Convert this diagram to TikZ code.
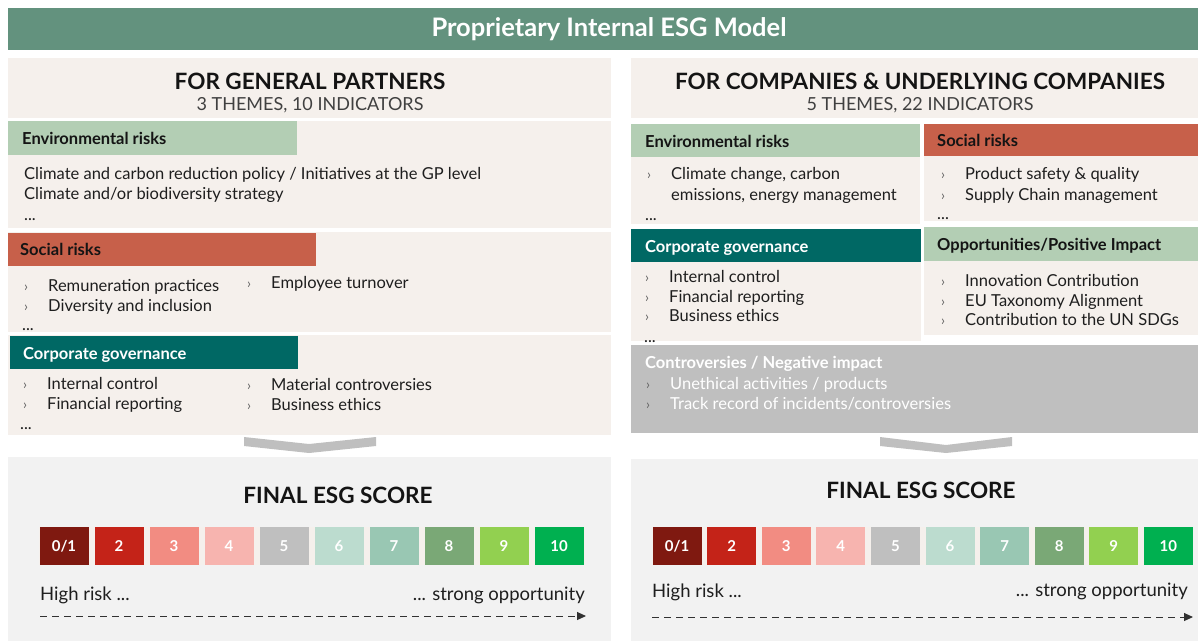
\documentclass[tikz,border=0pt]{standalone}
\usepackage{fontspec}
\setmainfont{Lato}
\usetikzlibrary{arrows.meta}

\definecolor{titlegreen}{RGB}{99,146,126}
\definecolor{panelbg}{RGB}{245,240,236}
\definecolor{scoregrey}{RGB}{242,242,242}
\definecolor{envgreen}{RGB}{179,206,180}
\definecolor{socialred}{RGB}{199,96,74}
\definecolor{govteal}{RGB}{0,104,100}
\definecolor{contgrey}{RGB}{191,191,191}
\definecolor{chevgrey}{RGB}{191,191,191}
\definecolor{headblack}{RGB}{20,20,20}
\definecolor{subgrey}{RGB}{64,64,64}
\definecolor{itemgrey}{RGB}{30,30,30}
\definecolor{bulletgrey}{RGB}{100,100,100}
\definecolor{arrowgrey}{RGB}{50,50,50}
% score scale
\definecolor{sca}{RGB}{127,25,16}
\definecolor{scb}{RGB}{196,35,24}
\definecolor{scc}{RGB}{242,140,130}
\definecolor{scd}{RGB}{247,180,175}
\definecolor{sce}{RGB}{191,191,191}
\definecolor{scf}{RGB}{188,220,207}
\definecolor{scg}{RGB}{153,199,179}
\definecolor{sch}{RGB}{122,168,118}
\definecolor{sci}{RGB}{146,208,80}
\definecolor{scj}{RGB}{0,176,80}

\newcommand{\itm}[1]{\makebox[24pt][l]{\textcolor{bulletgrey}{\fontsize{14}{14}\selectfont ›}}#1}
\newcommand{\zeroone}{0/1}

\begin{document}
\begin{tikzpicture}[x=1pt,y=-1pt,
    headtext/.style={font=\fontsize{22.5}{26}\selectfont\bfseries, text=headblack, inner sep=0pt},
    subtext/.style={font=\fontsize{18}{21}\selectfont, text=subgrey, inner sep=0pt},
    themetext/.style={anchor=west, font=\fontsize{16.5}{19}\selectfont\bfseries, text=headblack,
      inner sep=0pt, text height=12pt, text depth=0pt},
    itemtext/.style={anchor=west, font=\fontsize{16.5}{19}\selectfont, text=itemgrey,
      inner sep=0pt, text height=12pt, text depth=0pt},
    conttext/.style={itemtext, text=white},
    scorebox/.style={minimum width=49pt, minimum height=38pt, inner sep=0pt, text=white,
      font=\fontsize{15}{17}\selectfont\bfseries},
    scaletext/.style={font=\fontsize{18.5}{21}\selectfont, text=itemgrey, inner sep=0pt,
      text height=14pt, text depth=0pt},
    scalearrow/.style={draw=arrowgrey, line width=1pt, dash pattern=on 7pt off 5pt,
      -{Triangle[length=9pt,width=8pt]}}
  ]
  \useasboundingbox (0,0) rectangle (1198,641);

  % title bar
  \fill[titlegreen] (8,8) rectangle (1198,50);
  \node[font=\fontsize{25.5}{30}\selectfont\bfseries, text=white] (title) at (609,29) {Proprietary Internal ESG Model};

  % ---- general partners ----
  \fill[panelbg] (8,58) rectangle (611,118);
  \fill[panelbg] (8,121) rectangle (611,228);
  \fill[panelbg] (8,232) rectangle (611,332);
  \fill[panelbg] (8,335) rectangle (611,435);
  \node[headtext] (gphead) at (310,81) {FOR GENERAL PARTNERS};
  \node[subtext] (gpsub) at (310,105) {3 THEMES, 10 INDICATORS};

  \fill[envgreen] (8,121) rectangle (297,155);
  \node[themetext] (gpenv) at (22,138) {Environmental risks};
  \node[itemtext] (gpenv1) at (24,173) {Climate and carbon reduction policy / Initiatives at the GP level};
  \node[itemtext] (gpenv2) at (24,193) {Climate and/or biodiversity strategy};
  \node[itemtext] (gpenv3) at (24,214) {...};

  \fill[socialred] (8,233) rectangle (316,266);
  \node[themetext] (gpsoc) at (20,249) {Social risks};
  \node[itemtext] (gpsoc1) at (24,285) {\itm{Remuneration practices}};
  \node[itemtext] (gpsoc2) at (24,305) {\itm{Diversity and inclusion}};
  \node[itemtext] (gpsoc3) at (247,282) {\itm{Employee turnover}};
  \node[itemtext] (gpsoc4) at (22,324) {...};

  \fill[govteal] (10,336) rectangle (298,369);
  \node[themetext, text=white] (gpgov) at (23,353) {Corporate governance};
  \node[itemtext] (gpgov1) at (23,383) {\itm{Internal control}};
  \node[itemtext] (gpgov2) at (23,403) {\itm{Financial reporting}};
  \node[itemtext] (gpgov3) at (247,384) {\itm{Material controversies}};
  \node[itemtext] (gpgov4) at (247,404) {\itm{Business ethics}};
  \node[itemtext] (gpgov5) at (20,423) {...};

  % chevron
  \fill[chevgrey] (244,437) -- (309,444) -- (376,437) -- (376,446) -- (309,453) -- (244,446) -- cycle;

  % ---- companies ----
  \fill[panelbg] (631,58) rectangle (1198,118);
  \fill[panelbg] (631,124) rectangle (920,224);
  \fill[panelbg] (924,124) rectangle (1198,221);
  \fill[panelbg] (631,229) rectangle (921,341);
  \fill[panelbg] (924,227) rectangle (1198,335);
  \node[headtext] (cohead) at (920,81) {FOR COMPANIES \& UNDERLYING COMPANIES};
  \node[subtext] (cosub) at (920,105) {5 THEMES, 22 INDICATORS};

  \fill[envgreen] (631,124) rectangle (920,157);
  \node[themetext] (coenv) at (645,141) {Environmental risks};
  \node[itemtext] (coenv1) at (647,173) {\itm{Climate change, carbon}};
  \node[itemtext] (coenv2) at (671,194) {emissions, energy management};
  \node[itemtext] (coenv3) at (645,214) {...};

  \fill[socialred] (924,124) rectangle (1198,156);
  \node[themetext] (cosoc) at (937,140) {Social risks};
  \node[itemtext] (cosoc1) at (941,173) {\itm{Product safety \& quality}};
  \node[itemtext] (cosoc2) at (941,194) {\itm{Supply Chain management}};
  \node[itemtext] (cosoc3) at (937,213) {...};

  \fill[govteal] (631,229) rectangle (921,262);
  \node[themetext, text=white] (cogov) at (645,246) {Corporate governance};
  \node[itemtext] (cogov1) at (645,276) {\itm{Internal control}};
  \node[itemtext] (cogov2) at (645,296) {\itm{Financial reporting}};
  \node[itemtext] (cogov3) at (645,315) {\itm{Business ethics}};
  \node[itemtext] (cogov4) at (644,336) {...};

  \fill[envgreen] (924,227) rectangle (1198,261);
  \node[themetext] (coopp) at (937,244) {Opportunities/Positive Impact};
  \node[itemtext] (coopp1) at (941,280) {\itm{Innovation Contribution}};
  \node[itemtext] (coopp2) at (941,300) {\itm{EU Taxonomy Alignment}};
  \node[itemtext] (coopp3) at (941,319) {\itm{Contribution to the UN SDGs}};

  \fill[contgrey] (631,345) rectangle (1198,433);
  \node[themetext, text=white] (cocont) at (645,362) {Controversies / Negative impact};
  \node[conttext] (cocont1) at (646,383) {\itm{Unethical activities / products}};
  \node[conttext] (cocont2) at (646,403) {\itm{Track record of incidents/controversies}};

  % chevron
  \fill[chevgrey] (880,437) -- (946,445) -- (1012,437) -- (1012,446) -- (946,453) -- (880,446) -- cycle;

  % ---- final scores ----
  \fill[scoregrey] (8,457) rectangle (611,641);
  \node[headtext] (gpfinal) at (338,495) {FINAL ESG SCORE};
  \fill[panelbg] (39,527) rectangle (585,565);
  \foreach \col/\lab [count=\n from 0] in {sca/\zeroone, scb/2, scc/3, scd/4, sce/5, scf/6, scg/7, sch/8, sci/9, scj/10}
    \node[scorebox, fill=\col] (gpsc\n) at (64+55*\n,546) {\lab};
  \node[scaletext, anchor=west] (gplow) at (40,593) {High risk ...};
  \node[scaletext, anchor=east] (gphigh) at (585,593) {... strong opportunity};
  \coordinate (gpscaleS) at (40,616);
  \coordinate (gpscaleE) at (586,616);
  \draw[scalearrow] (gpscaleS) -- (gpscaleE);

  \fill[scoregrey] (631,459) rectangle (1198,641);
  \node[headtext] (cofinal) at (921,490) {FINAL ESG SCORE};
  \fill[panelbg] (652,527) rectangle (1193,565);
  \foreach \col/\lab [count=\n from 0] in {sca/\zeroone, scb/2, scc/3, scd/4, sce/5, scf/6, scg/7, sch/8, sci/9, scj/10}
    \node[scorebox, fill=\col] (cosc\n) at (677+54.6*\n,546) {\lab};
  \node[scaletext, anchor=west] (colow) at (652,590) {High risk ...};
  \node[scaletext, anchor=east] (cohigh) at (1188,589) {... strong opportunity};
  \coordinate (coscaleS) at (652,617);
  \coordinate (coscaleE) at (1193,617);
  \draw[scalearrow] (coscaleS) -- (coscaleE);
\end{tikzpicture}
\end{document}
